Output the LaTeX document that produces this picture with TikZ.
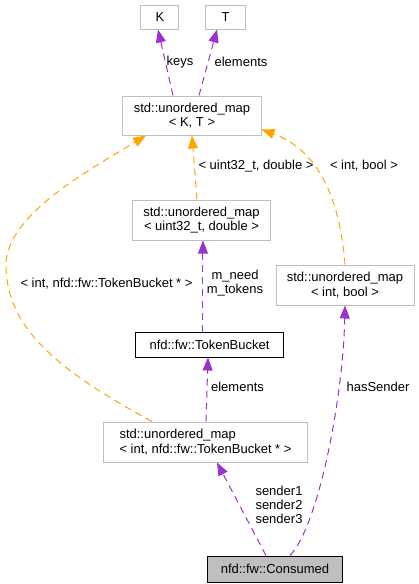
\documentclass[tikz,border=0pt]{standalone}
\usepackage{fontspec}
\setmainfont{Liberation Sans}
\usepackage{tikz}
\usetikzlibrary{arrows.meta, positioning}
\definecolor{edgegray}{HTML}{BFBFBF}
\definecolor{usepurple}{HTML}{9A32CD}
\definecolor{tmplorange}{HTML}{FFA500}

\begin{document}
\begin{tikzpicture}[
    box/.style={
      draw=edgegray,
      line width=1pt,
      fill=white,
      align=center,
      inner sep=0pt,
      font=\fontsize{13}{14.3}\selectfont
    },
    lbl/.style={
      align=center,
      inner sep=0pt,
      font=\fontsize{13}{14.3}\selectfont
    },
    uses/.style={-{Triangle[length=13pt,width=10pt]}, draw=usepurple, line width=1pt, dash pattern=on 7pt off 5pt},
    inst/.style={-{Triangle[length=13pt,width=10pt]}, draw=tmplorange, line width=1pt, dash pattern=on 7pt off 5pt}
  ]
    \useasboundingbox (-192pt,115.5pt) rectangle (227pt,-468.5pt);

    \node[box, minimum width=138pt, minimum height=39pt] (kt) at (0,0) {std::unordered\_map\\< K, T >};
    \node[box, minimum width=38pt, minimum height=24pt, above=66pt of kt, xshift=-32pt] (k) {K};
    \node[box, minimum width=39pt, minimum height=24pt, right=26pt of k] (t) {T};
    \node[box, minimum width=137pt, minimum height=40pt, below=64pt of kt, xshift=9.5pt] (u32) {std::unordered\_map\\< uint32\_t, double >};
    \node[box, minimum width=138pt, minimum height=40pt, below=129pt of kt, xshift=153pt] (ib) {std::unordered\_map\\< int, bool >};
    \node[box, draw=black, minimum width=147pt, minimum height=25pt, below=91pt of u32, xshift=8pt] (tb) {nfd::fw::TokenBucket};
    \node[box, align=left, minimum width=203pt, minimum height=40pt, below=64pt of tb, xshift=-4pt] (tbp) {std::unordered\_map\\< int, nfd::fw::TokenBucket * >};
    \node[box, draw=black, fill=edgegray, minimum width=134pt, minimum height=26pt, below=93pt of tbp, xshift=69.5pt] (cons) {nfd::fw::Consumed};

    \coordinate (bend) at (-186pt,-149.5pt);

    \node[lbl] (lkeys) at (-12pt,53.5pt) {keys};
    \node[lbl] (lelem) at (49pt,53.5pt) {elements};
    \node[lbl] (lu32) at (64pt,-50.5pt) {< uint32\_t, double >};
    \node[lbl] (lib) at (172pt,-50.5pt) {< int, bool >};
    \node[lbl] (ltbp) at (-85.5pt,-168.5pt) {< int, nfd::fw::TokenBucket * >};
    \node[lbl] (lneed) at (43pt,-167.5pt) {m\_need\\m\_tokens};
    \node[lbl] (lelem2) at (45.5pt,-271.5pt) {elements};
    \node[lbl] (lhas) at (186pt,-271.5pt) {hasSender};
    \node[lbl, align=right] (lsender) at (87pt,-389.5pt) {sender1\\sender2\\sender3};

    \draw[uses] ([xshift=-19pt]kt.north) -- ([xshift=-2pt]k.south);
    \draw[uses] ([xshift=7pt]kt.north) -- ([xshift=-8.5pt]t.south);
    \draw[inst] ([xshift=-4.5pt]u32.north) -- (kt.south);
    \draw[inst] (ib.north) .. controls +(-5pt,64pt) and +(58pt,-21pt) .. ([yshift=6pt]kt.south east);
    \draw[inst] ([xshift=-53.5pt]tbp.north) .. controls +(-90pt,49pt) and +(0pt,-65pt) .. (bend)
      .. controls +(0pt,50pt) and +(-56pt,-34pt) .. ([xshift=-46pt]kt.south);
    \draw[uses] ([xshift=-6.5pt]tb.north) -- ([xshift=1.5pt]u32.south);
    \draw[uses] ([xshift=0.5pt]tbp.north) -- ([xshift=-1.5pt]tb.south);
    \draw[uses] ([xshift=-9pt]cons.north) -- ([xshift=11.5pt]tbp.south);
    \draw[uses] ([xshift=15pt]cons.north) .. controls +(28pt,29pt) and +(-2pt,-95pt) .. (ib.south);
  \end{tikzpicture}
\end{document}
